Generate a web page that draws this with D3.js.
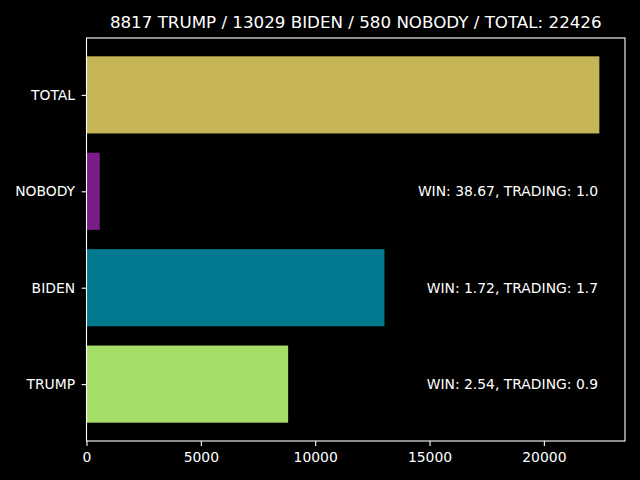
<!DOCTYPE html>
<html><head><meta charset="utf-8">
<script src="https://cdn.jsdelivr.net/npm/d3@7"></script>
<style>
html,body{margin:0;padding:0;background:#000;}
text{font-family:"DejaVu Sans",sans-serif;}
</style></head>
<body><svg id="c" width="640" height="480"></svg>
<script>
const categories = ["TRUMP", "BIDEN", "NOBODY", "TOTAL"];
const values = [8817, 13029, 580, 22426];
const colors = ["#a6de6a", "#03798f", "#781c86", "#c6b556"];
const annotations = ["WIN: 2.54, TRADING: 0.9", "WIN: 1.72, TRADING: 1.7", "WIN: 38.67, TRADING: 1.0", null];
const xTicks = [0, 5000, 10000, 15000, 20000];
const title = "8817 TRUMP / 13029 BIDEN / 580 NOBODY / TOTAL: 22426";

const svg = d3.select("#c");
svg.append("rect").attr("width",640).attr("height",480).attr("fill","#000");
const L = 86.5, R = 625, T = 38, B = 441;
const maxV = d3.max(values);
const x = d3.scaleLinear().domain([0, maxV*1.05]).range([L, R]);
const y = d3.scaleLinear().domain([-0.59, 3.59]).range([B, T]);

const g = svg.append("g");
g.selectAll("rect.bar").data(values).enter().append("rect")
  .attr("class","bar")
  .attr("x", x(0))
  .attr("width", d => x(d) - x(0))
  .attr("y", (d,i) => y(i + 0.4))
  .attr("height", (d,i) => y(i - 0.4) - y(i + 0.4))
  .attr("fill", (d,i) => colors[i]);

g.selectAll("text.ann").data(annotations.map((a,i)=>({a,i})).filter(d=>d.a)).enter().append("text")
  .attr("x", 598)
  .attr("y", d => y(d.i))
  .attr("dy", "0.35em")
  .attr("text-anchor","end")
  .attr("fill","#fff")
  .attr("font-size","13.9px")
  .text(d => d.a);

const xAxis = d3.axisBottom(x).tickValues(xTicks).tickFormat(d3.format("d")).tickSize(4.9).tickPadding(6.5);
const xg = svg.append("g").attr("transform",`translate(0,${B})`).call(xAxis);
xg.select(".domain").remove();
xg.selectAll("line").attr("stroke","#fff").attr("stroke-width",1.1);
xg.selectAll("text").attr("fill","#fff").attr("font-size","13.9px").attr("font-family","DejaVu Sans");

const yAxis = d3.axisLeft(y).tickValues(d3.range(categories.length)).tickFormat(i => categories[i]).tickSize(4.9).tickPadding(6.5);
const yg = svg.append("g").attr("transform",`translate(${L},0)`).call(yAxis);
yg.select(".domain").remove();
yg.selectAll("line").attr("stroke","#fff").attr("stroke-width",1.1);
yg.selectAll("text").attr("fill","#fff").attr("font-size","13.9px").attr("font-family","DejaVu Sans");

svg.append("rect").attr("x",L).attr("y",T).attr("width",R-L).attr("height",B-T)
  .attr("fill","none").attr("stroke","#fff").attr("stroke-width",1.1);

svg.append("text").attr("x",(L+R)/2).attr("y",T-10)
  .attr("text-anchor","middle").attr("fill","#fff").attr("font-size","16.7px").text(title);
</script></body></html>
